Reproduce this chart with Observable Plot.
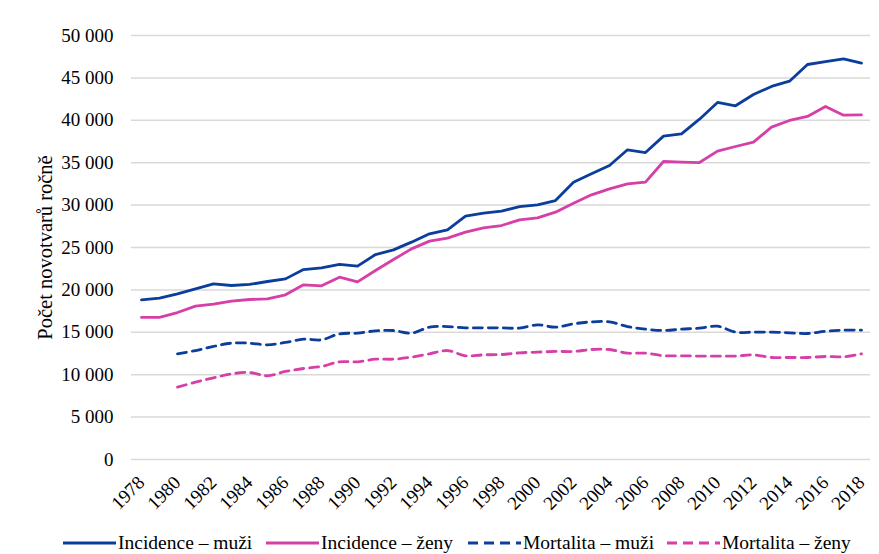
<!DOCTYPE html>
<html>
<head>
<meta charset="utf-8">
<script src="https://cdn.jsdelivr.net/npm/d3@7"></script>
<script src="https://cdn.jsdelivr.net/npm/@observablehq/plot@0.6"></script>
<style>
  html, body { margin: 0; padding: 0; background: #fff; }
  #chart { width: 879px; height: 532px; }
  #chart svg text { font-family: "Liberation Serif", "Times New Roman", serif !important; font-size: 19px !important; fill: #000; }
  #chart svg g[aria-label="y-axis label"] text { font-size: 20.5px !important; }
  .legend { height: 22px; width: 879px; position: relative; font-family: "Liberation Serif", "Times New Roman", serif; font-size: 19.5px; color: #000; }
  .item { position: absolute; top: 0; height: 22px; line-height: 22px; display: flex; align-items: center; white-space: nowrap; }
  .item svg { margin-right: 2px; }
</style>
</head>
<body>
<div id="chart"></div>
<script>
const years = d3.range(1978, 2019);

const incidenceMuzi = [18.83, 19.02, 19.54, 20.13, 20.72, 20.52, 20.64, 20.99, 21.30, 22.40,
  22.60, 23.00, 22.80, 24.17, 24.72, 25.63, 26.61, 27.08, 28.69, 29.05,
  29.28, 29.83, 30.03, 30.54, 32.70, 33.69, 34.67, 36.52, 36.20, 38.13,
  38.40, 40.13, 42.10, 41.71, 43.04, 43.99, 44.61, 46.58, 46.93, 47.25, 46.74];

const incidenceZeny = [16.75, 16.75, 17.33, 18.08, 18.32, 18.67, 18.87, 18.95, 19.42, 20.60,
  20.48, 21.50, 20.95, 22.29, 23.58, 24.84, 25.75, 26.10, 26.81, 27.32,
  27.59, 28.26, 28.50, 29.17, 30.23, 31.21, 31.92, 32.51, 32.70, 35.14,
  35.06, 35.02, 36.36, 36.91, 37.42, 39.19, 39.98, 40.45, 41.63, 40.60, 40.65];

const mortalitaMuzi = [null, null, 12.46, 12.85, 13.33, 13.72, 13.72, 13.52, 13.80, 14.19,
  14.11, 14.82, 14.90, 15.17, 15.21, 14.90, 15.61, 15.68, 15.53, 15.53,
  15.53, 15.49, 15.88, 15.61, 16.00, 16.23, 16.23, 15.68, 15.37, 15.21,
  15.37, 15.49, 15.72, 15.02, 15.02, 15.02, 14.94, 14.86, 15.13, 15.25, 15.25];

const mortalitaZeny = [null, null, 8.53, 9.12, 9.63, 10.10, 10.26, 9.87, 10.38, 10.73,
  10.97, 11.52, 11.52, 11.83, 11.83, 12.07, 12.46, 12.85, 12.23, 12.34,
  12.38, 12.58, 12.66, 12.74, 12.74, 12.97, 12.97, 12.54, 12.54, 12.23,
  12.23, 12.19, 12.19, 12.19, 12.34, 12.03, 12.03, 12.03, 12.15, 12.11, 12.46];

const yTicks = [0, 5000, 10000, 15000, 20000, 25000, 30000, 35000, 40000, 45000, 50000];
const xTicks = years.filter(y => (y - 1978) % 2 === 0);

const seriesNames = ["Incidence – muži", "Incidence – ženy", "Mortalita – muži", "Mortalita – ženy"];
const seriesColors = ["#0b3d9c", "#d63ea8", "#0b3d9c", "#d63ea8"];
const seriesDashed = [false, false, true, true];
const seriesValues = [incidenceMuzi, incidenceZeny, mortalitaMuzi, mortalitaZeny];

const rows = seriesNames.map((name, s) =>
  years.map((year, i) => ({year, value: seriesValues[s][i] == null ? null : seriesValues[s][i] * 1000}))
       .filter(d => d.value != null));

const fmt = v => d3.format(",")(v).replace(/,/g, " ");

const plot = Plot.plot({
  width: 879,
  height: 532,
  marginLeft: 131,
  marginRight: 9,
  marginTop: 35,
  marginBottom: 73,
  style: {fontFamily: "'Liberation Serif', 'Times New Roman', serif", fontSize: "19px", color: "#000", background: "#fff"},
  x: {type: "point", domain: years, padding: 0.5},
  y: {domain: [0, 50000]},
  marks: [
    Plot.ruleY(yTicks, {stroke: "#d9d9d9", strokeWidth: 1.5}),
    Plot.axisY({ticks: yTicks, tickFormat: fmt, tickSize: 0, tickPadding: 18,
      label: "Počet novotvarů ročně", labelAnchor: "center", labelArrow: "none", labelOffset: 94}),
    Plot.axisX({ticks: xTicks, tickFormat: d => String(d), tickSize: 0, tickRotate: -45, tickPadding: 14, dy: 6, label: null}),
    ...rows.map((data, s) => Plot.line(data, {
      x: "year", y: "value",
      stroke: seriesColors[s], strokeWidth: 2.8,
      strokeDasharray: seriesDashed[s] ? "9,6" : null,
      curve: seriesDashed[s] ? "catmull-rom" : "linear"
    }))
  ]
});
document.getElementById("chart").appendChild(plot);

// legend
const legend = document.createElement("div");
legend.className = "legend";
const lefts = [63, 266, 468, 667];
seriesNames.forEach((name, s) => {
  const item = document.createElement("div");
  item.className = "item";
  item.style.left = lefts[s] + "px";
  item.innerHTML = `<svg width="53" height="6"><line x1="0" x2="53" y1="3" y2="3" stroke="${seriesColors[s]}" stroke-width="3" ${seriesDashed[s] ? 'stroke-dasharray="10,6"' : ''}/></svg><span>${name}</span>`;
  legend.appendChild(item);
});
document.body.appendChild(legend);
</script>
</body>
</html>
